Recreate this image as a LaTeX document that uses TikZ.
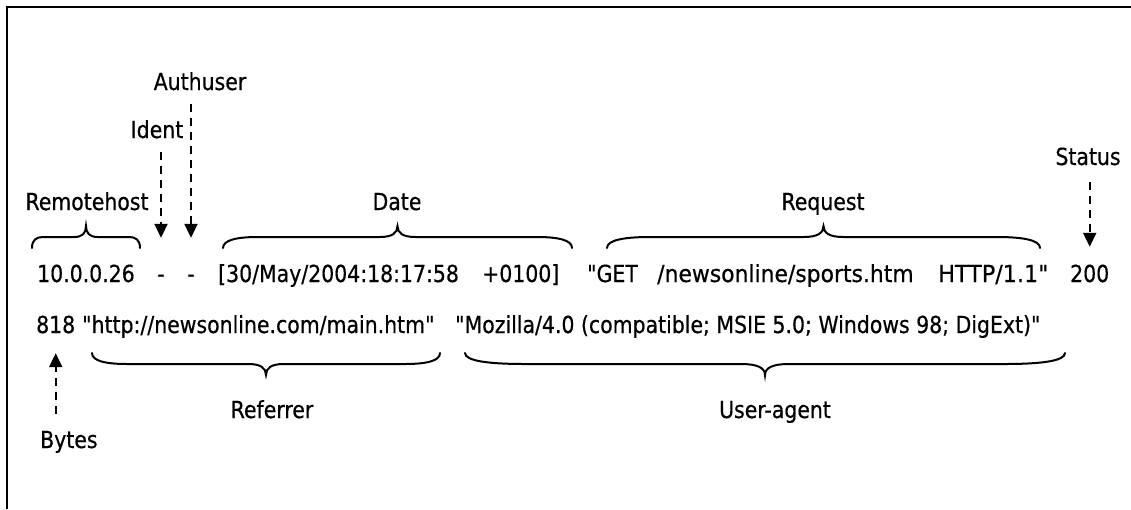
\documentclass[tikz,border=0pt]{standalone}
\usepackage{fontspec}
\setmainfont{DejaVu Sans}[FakeStretch=0.87, FakeBold=0.5, Ligatures=TeXOff]
\usetikzlibrary{arrows.meta,calc}
\begin{document}
\begin{tikzpicture}[x=1pt,y=-1pt,
  every node/.style={inner sep=0pt, text height=17pt, text depth=5pt,
    font=\fontsize{23.5}{28}\selectfont},
  field/.style={anchor=base west},
  tag/.style={anchor=base},
  pointer/.style={line width=2pt, dash pattern=on 8pt off 6pt,
    -{Triangle[length=14pt,width=13pt]}},
  bracket/.style={line width=2pt, line cap=round},
  % horizontal curly brace; #1=1 puts the cusp above, #1=-1 below;
  % the curved ends and the cusp grow with the length of the brace
  hbrace/.style={to path={
    let \p1=(\tikztostart), \p2=(\tikztotarget),
        \p3=($(\tikztostart)!0.5!(\tikztotarget)$),
        \p4=($(\tikztotarget)-(\tikztostart)$),
        \n1={0.1*\x4}, \n2={9+0.025*\x4} in
    (\p1) .. controls +(0pt,{#1*8pt}) and +({-0.6*\n1},0pt) .. ({\x1+\n1},{\y1+#1*11pt})
    -- ({\x3-\n2},{\y1+#1*11pt})
    .. controls +({0.7*\n2},0pt) and +(0pt,{-#1*7pt}) .. (\x3,{\y1+#1*22pt})
    .. controls +(0pt,{-#1*7pt}) and +({-0.7*\n2},0pt) .. ({\x3+\n2},{\y1+#1*11pt})
    -- ({\x2-\n1},{\y1+#1*11pt})
    .. controls +({0.6*\n1},0pt) and +(0pt,{#1*8pt}) .. (\p2)}}]

% page and frame
\fill[white] (0,0) rectangle (1131,509);
\useasboundingbox (0,0) rectangle (1131,509);
\draw[line width=2pt] (7,509) -- (7,7) -- (1131,7);

% first line of the log entry
\node[field] (ip)     at (37,282)   {10.0.0.26};
\node[tag]   (dashA)  at (161,282)  {-};
\node[tag]   (dashB)  at (191,282)  {-};
\node[field] (date)   at (218,282)  {[30/May/2004:18:17:58};
\node[field] (tz)     at (482,282)  {+0100]};
\node[field] (meth)   at (587,282)  {"GET};
\node[field, xscale=1.07] (url) at (657,282) {/newsonline/sports.htm};
\node[field, xscale=1.09] (proto) at (938,282) {HTTP/1.1"};
\node[field] (status) at (1070,282) {200};

% second line of the log entry
\node[field] (bytes)  at (36,333)   {818};
\node[field] (ref)    at (82,333)   {"http://newsonline.com/main.htm"};
\node[field] (ua)     at (455,333)  {"Mozilla/4.0 (compatible; MSIE 5.0; Windows 98; DigExt)"};

% field names
\node[tag] (lremote) at (87,210)   {Remotehost};
\node[tag] (lident)  at (157,138)  {Ident};
\node[tag] (lauth)   at (200,90)   {Authuser};
\node[tag] (ldate)   at (397,210)  {Date};
\node[tag] (lreq)    at (823,210)  {Request};
\node[tag] (lstat)   at (1088,165) {Status};
\node[tag] (lref)    at (272,418)  {Referrer};
\node[tag] (lua)     at (775,418)  {User-agent};
\node[field] (lbytes) at (40,448)  {Bytes};

% single-value fields: dashed pointers
\draw[pointer, shorten <=9pt, shorten >=27pt] (lident.south -| dashA) -- (dashA.north);
\draw[pointer, shorten <=9pt, shorten >=27pt] (lauth.south -| dashB) -- (dashB.north);
\draw[pointer, shorten <=12pt, shorten >=18pt] (lstat.south -| status) -- (status.north);
\draw[pointer, shorten <=17pt, shorten >=15pt] (lbytes.north -| bytes) -- (bytes.south);

% multi-character fields: braces
\coordinate (rA) at (32,248);   \coordinate (rB) at (140,248);
\coordinate (dA) at (223,248);  \coordinate (dB) at (572,248);
\coordinate (qA) at (607,248);  \coordinate (qB) at (1040,248);
\coordinate (fA) at (92,353);   \coordinate (fB) at (440,353);
\coordinate (uA) at (465,353);  \coordinate (uB) at (1065,353);
\draw[bracket] (rA) to[hbrace=1] (rB);
\draw[bracket] (dA) to[hbrace=1] (dB);
\draw[bracket] (qA) to[hbrace=1] (qB);
\draw[bracket] (fA) to[hbrace=-1] (fB);
\draw[bracket] (uA) to[hbrace=-1] (uB);
\end{tikzpicture}
\end{document}
